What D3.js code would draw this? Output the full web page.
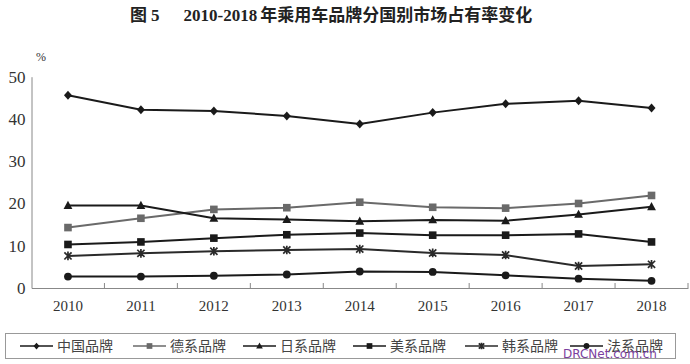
<!DOCTYPE html>
<html><head><meta charset="utf-8">
<script src="https://cdn.jsdelivr.net/npm/d3@7/dist/d3.min.js"></script>
<style>body{margin:0;background:#fff}svg{display:block}</style>
</head><body><svg id="c" width="690" height="364"></svg>
<script>
const years = ["2010","2011","2012","2013","2014","2015","2016","2017","2018"];
const yTicks = [0,10,20,30,40,50];
const seriesNames = ["中国品牌","德系品牌","日系品牌","美系品牌","韩系品牌","法系品牌"];
const chinese  = [45.6,42.2,41.9,40.7,38.8,41.5,43.6,44.3,42.6];
const german   = [14.3,16.5,18.6,19.0,20.3,19.1,18.9,20.0,21.9];
const japanese = [19.5,19.5,16.5,16.2,15.8,16.1,15.9,17.4,19.2];
const american = [10.3,10.9,11.8,12.6,13.0,12.5,12.5,12.8,10.9];
const korean   = [7.6,8.2,8.7,9.0,9.2,8.3,7.8,5.2,5.6];
const french   = [2.7,2.7,2.9,3.2,3.9,3.8,3.0,2.2,1.7];
const seriesValues = [chinese, german, japanese, american, korean, french];
const markers = ["diamond","square","triangle","square","asterisk","circle"];
const colors = ["#1a1a1a","#6a6a6a","#1a1a1a","#1a1a1a","#2a2a2a","#1a1a1a"];

const svg = d3.select("#c");
const x = d3.scaleBand().domain(years).range([31.5, 688]).padding(0);
const y = d3.scaleLinear().domain([0,50]).range([288, 76.7]);

// title
const t = svg.append("text").attr("x",130).attr("y",21).attr("font-weight","bold").attr("fill","#222").attr("font-size",17);
t.append("tspan").attr("font-family","Noto Sans CJK SC").text("图");
t.append("tspan").attr("font-family","Liberation Serif").attr("dx",4).text("5");
t.append("tspan").attr("font-family","Liberation Serif").attr("dx",24).text("2010-2018");
t.append("tspan").attr("font-family","Noto Sans CJK SC").attr("dx",3).text("年乘用车品牌分国别市场占有率变化");

svg.append("text").attr("x",36).attr("y",61).attr("font-family","Liberation Serif").attr("font-size",12).attr("fill","#333").text("%");

// y axis
const ya = svg.append("g").attr("transform","translate(31.5,0)")
  .call(d3.axisLeft(y).tickValues(yTicks).tickSize(0).tickPadding(6));
ya.select(".domain").attr("stroke","#888");
ya.selectAll("text").attr("font-family","Liberation Serif").attr("font-size",17).attr("fill","#333");

// x axis
const xa = svg.append("g").attr("transform","translate(0,288)")
  .call(d3.axisBottom(x).tickSize(0).tickPadding(12));
xa.select(".domain").attr("stroke","#888");
xa.selectAll("text").attr("font-family","Liberation Serif").attr("font-size",15).attr("fill","#333");
svg.append("g").selectAll("line").data(years.slice(1).concat(["end"])).join("line")
  .attr("x1",(d,i)=>x(years[0]) + x.step()*(i+1)).attr("x2",(d,i)=>x(years[0]) + x.step()*(i+1))
  .attr("y1",288).attr("y2",283).attr("stroke","#888");

function drawMarker(g, type, cx, cy, color, s) {
  s = s || 1;
  if (type==="diamond") g.append("path").attr("d",`M${cx},${cy-4.5*s}L${cx+4*s},${cy}L${cx},${cy+4.5*s}L${cx-4*s},${cy}Z`).attr("fill",color);
  else if (type==="square") g.append("rect").attr("x",cx-3.8*s).attr("y",cy-3.8*s).attr("width",7.6*s).attr("height",7.6*s).attr("fill",color);
  else if (type==="triangle") g.append("path").attr("d",`M${cx},${cy-4.8*s}L${cx+4.4*s},${cy+3.4*s}L${cx-4.4*s},${cy+3.4*s}Z`).attr("fill",color);
  else if (type==="circle") g.append("circle").attr("cx",cx).attr("cy",cy).attr("r",3.9*s).attr("fill",color);
  else if (type==="asterisk") {
    const r = 3.6*s;
    g.append("path").attr("d",`M${cx-r},${cy-r}L${cx+r},${cy+r}M${cx-r},${cy+r}L${cx+r},${cy-r}M${cx},${cy-r*1.2}L${cx},${cy+r*1.2}`)
      .attr("stroke",color).attr("stroke-width",1.7).attr("fill","none");
  }
}

const cx = d => x(d) + x.bandwidth()/2;
const line = d3.line().x((d,i)=>cx(years[i])).y(d=>y(d));
seriesValues.forEach((vals, si) => {
  const g = svg.append("g");
  g.append("path").attr("d", line(vals)).attr("fill","none").attr("stroke",colors[si]).attr("stroke-width",2);
  vals.forEach((v,i)=>drawMarker(g, markers[si], cx(years[i]), y(v), colors[si]));
});

// legend
svg.append("rect").attr("x",5.5).attr("y",333.5).attr("width",670).attr("height",25).attr("fill","none").attr("stroke","#999");
const legX = [20, 133, 243, 353, 465, 570];
seriesNames.forEach((n, i) => {
  const g = svg.append("g");
  const lx = legX[i], ly = 346;
  g.append("line").attr("x1",lx).attr("x2",lx+33).attr("y1",ly).attr("y2",ly).attr("stroke",colors[i]).attr("stroke-width",1.6);
  drawMarker(g, markers[i], lx+16.5, ly, colors[i], 0.75);
  g.append("text").attr("x",lx+37).attr("y",ly+5).attr("font-family","Noto Sans CJK SC").attr("font-size",14).attr("fill","#444").text(n);
});
svg.append("text").attr("x",563).attr("y",358).attr("font-family","DejaVu Sans").attr("font-size",12).attr("fill","#7b3f9e").text("DRCNet.com.cn");
</script></body></html>
